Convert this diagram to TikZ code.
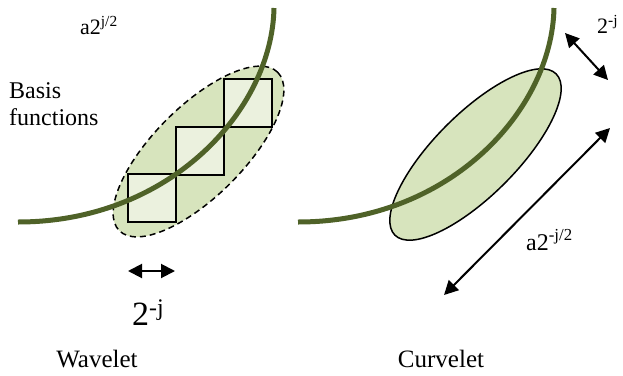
\documentclass[tikz,border=0pt]{standalone}
\usepackage{fontspec}
\setmainfont{Liberation Serif}
\newfontfamily\labelface{Liberation Serif}
\usetikzlibrary{arrows.meta,shapes.geometric}

\definecolor{curvegreen}{HTML}{4F6228}
\definecolor{patchgreen}{HTML}{D7E4BD}
\definecolor{tilegreen}{HTML}{EBF1DE}

\tikzset{
  boldcurve/.style={curvegreen, line width=5pt},
  patch/.style={ellipse, draw=black, fill=patchgreen, line width=1.5pt, inner sep=0pt},
  tile/.style={rectangle, draw=black, fill=tilegreen, line width=2pt, minimum size=48pt, inner sep=0pt},
  dimarrow/.style={{Triangle[length=14pt,width=14pt]}-{Triangle[length=14pt,width=14pt]}, line width=2pt},
  lbl/.style={inner sep=0pt, font=\labelface\fontsize{22}{26}\selectfont}
}

\begin{document}
\begin{tikzpicture}[x=1pt,y=-1pt]
  \useasboundingbox (0,0) rectangle (623,375);

  % Wavelet
  \node[patch, dash pattern=on 6pt off 4pt, minimum width=224pt, minimum height=90pt, rotate=45] (wpatch) at (198.5,151.5) {};
  \node[tile] (tile1) at (152,198) {};
  \node[tile] (tile2) at (200,150.5) {};
  \node[tile] (tile3) at (248,102.5) {};
  \draw[boldcurve] (18,222) .. controls (170,222) and (272,110) .. (274,8);

  \coordinate (wleft) at (128,271);
  \coordinate (wright) at (175,271);
  \draw[dimarrow] (wleft) -- (wright);
  \node[lbl, anchor=base west, font=\labelface\fontsize{34}{40}\selectfont] (wwidth) at (132,325) {2\textsuperscript{-j}};

  \node[lbl, anchor=base west] (wlength) at (80,34) {a2\textsuperscript{j/2}};
  \node[lbl, anchor=north west, align=left, font=\labelface\fontsize{24}{27}\selectfont] (basis) at (9,82) {Basis\\functions};
  \node[lbl, anchor=base, font=\labelface\fontsize{25}{30}\selectfont] (wavelet) at (97,367) {Wavelet};

  % Curvelet
  \node[patch, minimum width=228pt, minimum height=82pt, rotate=45] (cpatch) at (475.5,154.5) {};
  \draw[boldcurve] (298,222) .. controls (450,222) and (552,110) .. (554,8);

  \coordinate (cwtop) at (565,33);
  \coordinate (cwbot) at (608,80);
  \draw[dimarrow] (cwtop) -- (cwbot);
  \node[lbl, anchor=base west] (cwidth) at (597,33) {2\textsuperscript{-j}};

  \coordinate (cltop) at (610,128);
  \coordinate (clbot) at (444,295);
  \draw[dimarrow] (clbot) -- (cltop);
  \node[lbl, anchor=base west, font=\labelface\fontsize{24}{28}\selectfont] (clength) at (526,250) {a2\textsuperscript{-j/2}};

  \node[lbl, anchor=base, font=\labelface\fontsize{25}{30}\selectfont] (curvelet) at (441,367) {Curvelet};
\end{tikzpicture}
\end{document}
